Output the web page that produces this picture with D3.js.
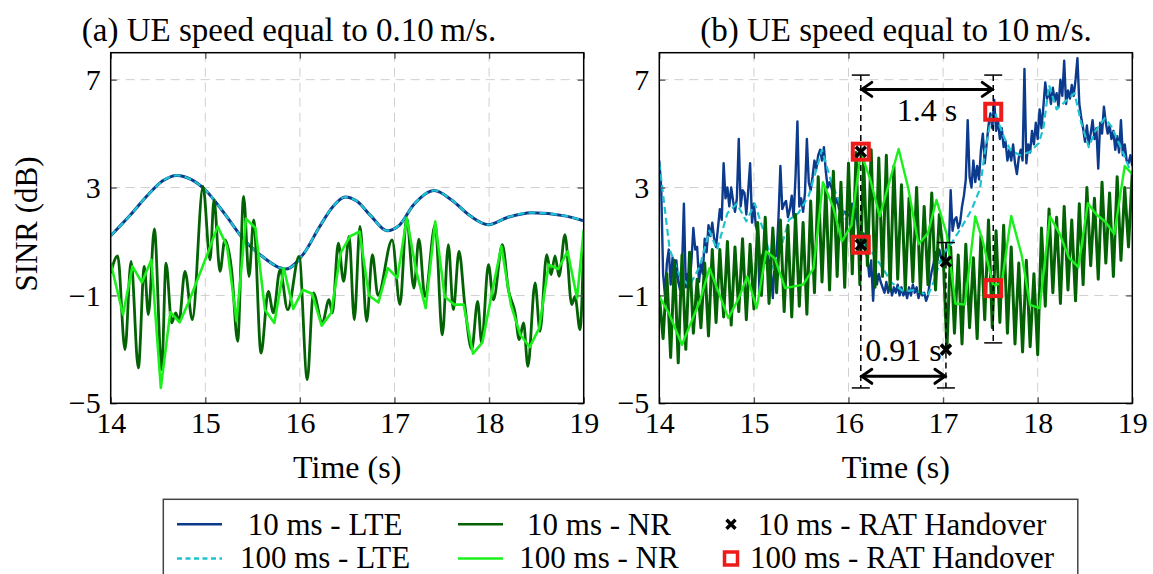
<!DOCTYPE html>
<html><head><meta charset="utf-8">
<script src="https://cdn.jsdelivr.net/npm/d3@7"></script>
<style>
body{margin:0;background:#fff;}
svg{display:block;}
svg text{font-family:"Liberation Serif","DejaVu Serif",serif;}
</style></head><body>
<svg id="chart" width="1153" height="574"></svg>
<script>
// ---------------- data ----------------
const xTicks = [14, 15, 16, 17, 18, 19];
const yTicks = [-5, -1, 3, 7];
const panelTitles = ["(a) UE speed equal to 0.10\u2009m/s.", "(b) UE speed equal to 10\u2009m/s."];
const xLabel = "Time (s)";
const yLabel = "SINR (dB)";
const legendLabels = ["10 ms - LTE", "100 ms - LTE", "10 ms - NR", "100 ms - NR", "10 ms - RAT Handover", "100 ms - RAT Handover"];

// (a) 0.10 m/s
const lteLeftT = [14.0,14.2,14.4,14.55,14.7,14.85,15.0,15.2,15.4,15.6,15.85,16.05,16.2,16.35,16.48,16.6,16.75,16.92,17.05,17.2,17.42,17.6,17.8,17.99,18.2,18.45,18.8,19.0];
const lte10LeftV = [1.21,1.95,2.75,3.25,3.45,3.3,2.91,2.05,1.1,0.45,-0.02,0.6,1.5,2.3,2.65,2.5,1.95,1.4,1.6,2.35,2.89,2.55,1.95,1.62,1.9,2.07,1.95,1.77];
const lte100LeftV = [1.21,1.95,2.75,3.25,3.45,3.3,2.91,2.05,1.1,0.45,-0.02,0.6,1.5,2.3,2.65,2.5,1.95,1.4,1.6,2.35,2.89,2.55,1.95,1.62,1.9,2.07,1.95,1.77];

const nr10LeftT = [14.0,14.074,14.151,14.215,14.292,14.355,14.398,14.461,14.539,14.585,
  14.645,14.687,14.722,14.785,14.863,14.976,15.05,15.092,15.155,15.207,
  15.278,15.342,15.405,15.462,15.511,15.589,15.666,15.719,15.79,15.871,
  15.991,16.078,16.142,16.237,16.308,16.343,16.406,16.462,16.52,16.575,
  16.635,16.706,16.766,16.825,16.975,17.058,17.128,17.205,17.258,17.322,
  17.43,17.506,17.569,17.622,17.682,17.745,17.816,17.879,17.921,17.993,
  18.046,18.14,18.204,18.275,18.318,18.364,18.41,18.486,18.538,18.609,
  18.655,18.697,18.739,18.802,18.873,18.908,18.961,19.0];
const nr10LeftV = [-0.17,0.47,-3.01,0.26,-3.69,0.08,-1.71,1.47,-3.75,0.2,
  -2.02,-1.65,-1.96,-0.11,-1.9,3.04,0.32,2.54,-0.11,1.06,
  -0.05,-2.7,2.67,-0.3,1.8,-3.14,-0.85,-1.65,-0.05,-1.53,
  0.45,-4.12,-0.91,-2.02,-1.16,-1.65,0.94,-0.48,1.19,-1.9,
  1.56,-1.96,0.51,-1.0,1.06,-1.34,1.87,-0.73,1.09,-1.04,
  1.62,-2.46,0.88,-1.53,0.63,-1.4,-3.0,-1.22,-2.76,0.14,
  -1.16,0.88,-0.79,-1.65,-2.64,-2.02,-3.63,-0.54,-2.33,0.51,
  -0.23,0.47,-0.29,1.25,-1.34,-1.04,-2.27,1.0];

const nr100LeftT = [14.0].concat(d3.range(49).map(k => 14.13 + 0.1 * k), [19.0]);
const nr100LeftV = [0.20,-1.71,0.08,-0.52,0.32,-4.43,-1.62,-2.0,-1.2,-0.3,
  0.6,1.56,0.82,-1.95,1.85,1.5,-1.53,-2.02,0.01,-1.5,
  -0.79,-0.94,-2.12,-1.65,0.57,1.19,1.37,-1.0,-1.26,0.01,
  -0.36,1.87,-0.11,-1.47,1.74,-1.04,-1.34,-1.34,-3.16,-2.74,
  -0.9,0.82,-1.34,-2.46,-2.91,-2.21,0.14,-0.02,0.63,-1.10,1.43];

// (b) 10 m/s
const lte10RightT = d3.range(251).map(i => 14 + 0.02 * i);
const lte10RightV = [
  4.0,3.0,-0.2,-1.0,0.2,0.7,-0.6,0.4,-0.8,0.3,
  -0.5,-0.8,0.0,2.4,-0.7,-0.2,-0.6,0.3,1.5,0.7,
  0.8,-0.5,0.2,-0.2,1.1,0.6,1.6,1.2,1.7,1.1,
  0.8,1.5,2.2,1.8,3.9,2.6,3.0,2.3,3.0,2.5,
  2.1,2.6,4.8,2.3,2.9,2.8,2.0,2.9,3.9,1.7,
  2.4,1.6,1.3,-1.0,0.4,0.6,0.2,0.5,0.3,-0.2,
  -1.1,0.4,0.5,1.9,3.8,2.2,2.4,2.5,1.9,2.2,
  2.7,1.9,3.4,5.45,2.3,2.6,2.1,2.8,4.8,3.2,
  2.9,3.4,4.0,3.7,4.2,4.4,4.0,4.5,3.6,3.0,
  3.2,3.0,2.7,2.4,2.6,2.2,2.3,2.0,2.1,2.0,
  2.0,1.9,2.4,1.8,2.2,1.5,1.1,0.9,1.3,0.6,
  0.4,-0.3,0.3,-1.2,0.2,-0.6,-0.2,-0.5,-0.7,-0.9,
  -0.5,-0.9,-0.6,-1.0,-0.7,-0.9,-0.6,-1.0,-0.7,-1.0,
  -0.8,-1.1,-0.7,-1.0,-0.6,-0.9,-0.7,-1.1,-0.8,-1.0,
  -0.9,-1.2,-1.0,-0.5,-0.1,0.2,0.6,0.3,0.7,0.4,
  0.2,0.3,0.9,0.7,2.9,1.4,1.8,1.9,1.5,1.7,
  2.3,2.7,3.3,5.5,3.4,3.0,4.0,3.2,3.8,3.3,
  4.4,5.0,3.9,4.6,5.3,5.75,5.2,6.25,5.1,5.5,
  4.8,5.2,4.5,4.7,4.0,4.4,4.0,4.6,3.9,3.5,
  4.1,4.4,4.0,7.4,3.9,4.6,4.3,5.1,4.6,5.4,
  4.8,5.9,5.2,6.0,6.9,6.3,6.6,6.1,6.7,6.2,
  6.5,6.0,7.0,6.4,7.7,6.1,6.6,6.3,6.8,6.4,
  7.0,7.8,6.1,5.6,5.2,4.7,5.3,4.6,5.0,5.5,
  4.8,5.2,3.7,5.4,5.0,6.0,5.4,5.0,5.3,4.8,
  5.1,4.4,4.9,4.3,5.5,4.2,4.6,4.0,3.9,4.2,
  3.8];

const lte100RightT = [14.00,14.11,14.22,14.32,14.43,14.53,14.61,14.72,14.82,14.92,15.01,15.11,15.21,15.26,15.37,15.47,15.58,15.72,15.81,15.91,16.00,16.12,16.23,16.35,16.46,16.58,16.70,16.84,16.90,16.99,17.09,17.20,17.30,17.39,17.44,17.51,17.55,17.64,17.71,17.81,17.92,18.01,18.06,18.12,18.20,18.31,18.39,18.46,18.54,18.61,18.71,18.78,18.89,18.99,19.00];
const lte100RightV = [3.9,0.7,-0.3,-0.65,0.1,1.4,0.7,2.05,2.4,1.75,2.4,1.3,-0.05,0.45,1.8,2.05,2.7,4.4,3.3,2.4,1.56,1.0,0.69,0.07,-0.54,-0.85,-0.8,-1.0,-0.5,0.5,0.94,1.56,2.17,2.95,4.3,5.6,5.75,4.9,4.4,4.2,4.33,4.64,5.2,6.8,5.9,6.25,6.5,5.4,4.5,5.1,5.57,5.26,4.4,3.53,3.5];

const nr10RightT = d3.range(126).map(i => 14 + 0.04 * i);
const nr10RightV = [
  -1.0,-2.6,-0.2,-3.3,0.3,-3.5,0.5,-3.0,0.6,-2.4,
  -0.4,-2.2,0.2,-2.5,0.7,-2.0,0.7,-1.8,1.0,-2.1,
  0.8,-1.6,1.1,-1.9,0.9,-1.5,1.7,-1.0,1.9,-1.3,
  1.5,-0.9,1.8,-1.6,1.6,-1.8,2.0,-1.4,1.7,-1.7,
  2.5,-0.9,3.4,-0.5,3.0,-0.8,3.6,-0.3,3.2,-0.7,
  3.9,-0.2,4.3,-0.6,4.0,0.1,4.4,-0.7,4.1,-0.3,
  4.2,-0.8,3.8,-0.4,3.1,-0.8,2.6,-0.5,3.0,-0.9,
  2.3,-0.6,2.8,-0.8,2.0,0.6,-3.0,0.8,-2.4,0.5,
  -2.8,0.9,-2.2,0.4,-2.6,1.2,-1.9,1.8,-2.2,1.4,
  -2.0,1.6,-2.4,0.8,-2.8,0.2,-3.1,0.3,-2.9,-0.2,
  -3.2,1.5,-1.4,2.2,-0.9,1.9,-1.3,2.3,-0.8,1.8,
  -1.2,2.4,-0.6,3.0,0.1,2.6,-0.4,3.2,0.2,2.8,
  -0.3,3.4,0.3,3.0,0.8,3.6];

const nr100RightT = [14.0,14.1,14.24,14.43,14.53,14.73,14.84,14.93,15.03,15.13,15.22,15.33,15.52,15.63,15.73,15.84,15.93,16.03,16.13,16.23,16.33,16.53,16.63,16.74,16.84,16.93,17.04,17.13,17.23,17.34,17.42,17.53,17.62,17.72,17.83,17.92,18.02,18.13,18.23,18.33,18.43,18.53,18.62,18.71,18.81,18.92,19.0];
const nr100RightV = [-1.04,-1.65,-2.83,-1.2,0.01,-1.84,-1.1,-0.3,-1.47,0.63,0.38,-0.73,-0.6,0.0,3.2,2.25,1.0,1.6,4.3,3.3,1.93,4.43,3.0,0.9,1.31,2.54,1.25,-1.3,-1.34,1.93,1.0,-0.63,-0.55,1.95,0.5,-1.35,-1.47,1.93,1.3,0.4,0.05,2.42,2.0,1.75,1.28,3.8,3.5];

// RAT handover events (time, SINR)
const ho10T = [16.13, 16.13, 17.03, 17.03];
const ho10V = [4.33, 0.88, 0.26, -3.01];
const ho100T = [16.13, 16.13, 17.53, 17.53];
const ho100V = [4.33, 0.88, 5.81, -0.73];

// annotation (dimension lines) in data units
const dimLineT = [16.13, 17.53, 17.03];
const dimLineTop = [7.17, 7.17, 0.96];
const dimLineBot = [-4.43, -2.76, -4.43];
const arrowFrom = [16.13, 16.13];
const arrowTo = [17.53, 17.03];
const arrowV = [6.64, -4.0];
const arrowLabels = ["1.4 s", "0.91 s"];
const arrowLabelV = [5.45, -3.45];

// ---------------- drawing ----------------
const C = {lte10: '#0c3a8c', lte100: '#1fc3cf', nr10: '#036203', nr100: '#1cf01c', red: '#ee1b1b'};
const svg = d3.select('#chart');
svg.append('rect').attr('width', 1153).attr('height', 574).attr('fill', '#fff');

const yTop = 52.7, yBot = 403.3;
const panels = [
  {x0: 110.7, x1: 583.7, titleX: 289},
  {x0: 659.3, x1: 1132.3, titleX: 896}
];

const y = d3.scaleLinear().domain([-5, 8]).range([yBot, yTop]);

function drawPanel(pi, series, extra) {
  const p = panels[pi];
  const x = d3.scaleLinear().domain([14, 19]).range([p.x0, p.x1]);
  const g = svg.append('g');

  g.selectAll('.gx').data(xTicks).join('line')
    .attr('x1', d => x(d)).attr('x2', d => x(d)).attr('y1', yTop).attr('y2', yBot)
    .attr('stroke', '#cfcfcf').attr('stroke-width', 1).attr('stroke-dasharray', '9,6');
  g.selectAll('.gy').data(yTicks).join('line')
    .attr('x1', p.x0).attr('x2', p.x1).attr('y1', d => y(d)).attr('y2', d => y(d))
    .attr('stroke', '#cfcfcf').attr('stroke-width', 1).attr('stroke-dasharray', '9,6');

  const cid = 'clip' + pi;
  svg.append('clipPath').attr('id', cid).append('rect')
    .attr('x', p.x0).attr('y', yTop).attr('width', p.x1 - p.x0).attr('height', yBot - yTop);
  const lg = g.append('g').attr('clip-path', `url(#${cid})`);

  series.forEach(s => {
    const line = d3.line().x(d => x(d[0])).y(d => y(d[1])).curve(s.curve || d3.curveLinear);
    lg.append('path').datum(d3.zip(s.t, s.v))
      .attr('d', line).attr('fill', 'none')
      .attr('stroke', s.color).attr('stroke-width', s.width)
      .attr('stroke-dasharray', s.dash || null)
      .attr('stroke-linejoin', 'round');
  });

  if (extra) extra(g, x);

  const styleAxis = sel => {
    sel.select('.domain').remove();
    sel.selectAll('line').attr('stroke', '#555').attr('stroke-width', 1.3);
    sel.attr('font-size', null).attr('font-family', null);
    sel.selectAll('text').attr('fill', '#000').style('font-size', '30px');
  };
  g.append('g').attr('transform', `translate(0,${yBot})`)
    .call(d3.axisBottom(x).tickValues(xTicks).tickSize(-6).tickPadding(8).tickFormat(d3.format('d')))
    .call(styleAxis);
  g.append('g').attr('transform', `translate(0,${yTop})`)
    .call(d3.axisTop(x).tickValues(xTicks).tickSize(-6).tickFormat(''))
    .call(styleAxis);
  g.append('g').attr('transform', `translate(${p.x0},0)`)
    .call(d3.axisLeft(y).tickValues(yTicks).tickSize(-6).tickPadding(10).tickFormat(d3.format('d')))
    .call(styleAxis);
  g.append('g').attr('transform', `translate(${p.x1},0)`)
    .call(d3.axisRight(y).tickValues(yTicks).tickSize(-6).tickFormat(''))
    .call(styleAxis);

  g.append('rect').attr('x', p.x0).attr('y', yTop).attr('width', p.x1 - p.x0).attr('height', yBot - yTop)
    .attr('fill', 'none').attr('stroke', '#000').attr('stroke-width', 1.5);

  g.append('text').attr('x', (p.x0 + p.x1) / 2).attr('y', 478).attr('text-anchor', 'middle')
    .style('font-size', '32px').text(xLabel);
  g.append('text').attr('x', p.titleX).attr('y', 41).attr('text-anchor', 'middle')
    .style('font-size', '33px').text(panelTitles[pi]);
  return x;
}

drawPanel(0, [
  {t: lteLeftT, v: lte10LeftV, color: C.lte10, width: 3, curve: d3.curveMonotoneX},
  {t: lteLeftT, v: lte100LeftV, color: C.lte100, width: 2.2, dash: '7,4', curve: d3.curveMonotoneX},
  {t: nr10LeftT, v: nr10LeftV, color: C.nr10, width: 2.8, curve: d3.curveMonotoneX},
  {t: nr100LeftT, v: nr100LeftV, color: C.nr100, width: 2.6}
]);

function xMark(sel, cx, cy, r, w) {
  sel.append('path').attr('d', `M${cx - r},${cy - r}L${cx + r},${cy + r}M${cx - r},${cy + r}L${cx + r},${cy - r}`)
    .attr('stroke', '#000').attr('stroke-width', w).attr('fill', 'none');
}
function sqMark(sel, cx, cy, s, w) {
  sel.append('rect').attr('x', cx - s / 2).attr('y', cy - s / 2).attr('width', s).attr('height', s)
    .attr('fill', 'none').attr('stroke', C.red).attr('stroke-width', w);
}

drawPanel(1, [
  {t: lte10RightT, v: lte10RightV, color: C.lte10, width: 2.4},
  {t: lte100RightT, v: lte100RightV, color: C.lte100, width: 2.2, dash: '7,4'},
  {t: nr10RightT, v: nr10RightV, color: C.nr10, width: 3},
  {t: nr100RightT, v: nr100RightV, color: C.nr100, width: 2.4}
], (g, x) => {
  const ag = g.append('g');
  dimLineT.forEach((t, i) => {
    ag.append('line').attr('x1', x(t)).attr('x2', x(t)).attr('y1', y(dimLineTop[i])).attr('y2', y(dimLineBot[i]))
      .attr('stroke', '#000').attr('stroke-width', 1.5).attr('stroke-dasharray', '6,4');
    [dimLineTop[i], dimLineBot[i]].forEach(v => {
      ag.append('line').attr('x1', x(t) - 9).attr('x2', x(t) + 9).attr('y1', y(v)).attr('y2', y(v))
        .attr('stroke', '#000').attr('stroke-width', 1.5);
    });
  });
  ho100T.forEach((t, i) => sqMark(ag, x(t), y(ho100V[i]), 16, 4));
  ho10T.forEach((t, i) => xMark(ag, x(t), y(ho10V[i]), 5, 3.6));
  arrowFrom.forEach((t0, i) => {
    const xa = x(t0), xb = x(arrowTo[i]), ya = y(arrowV[i]);
    ag.append('line').attr('x1', xa + 1).attr('x2', xb - 1).attr('y1', ya).attr('y2', ya)
      .attr('stroke', '#000').attr('stroke-width', 3);
    ag.append('path').attr('d', `M${xa + 11},${ya - 7}L${xa + 1},${ya}L${xa + 11},${ya + 7}`)
      .attr('fill', 'none').attr('stroke', '#000').attr('stroke-width', 3).attr('stroke-linecap', 'round');
    ag.append('path').attr('d', `M${xb - 11},${ya - 7}L${xb - 1},${ya}L${xb - 11},${ya + 7}`)
      .attr('fill', 'none').attr('stroke', '#000').attr('stroke-width', 3).attr('stroke-linecap', 'round');
    ag.append('text').attr('x', (xa + xb) / 2).attr('y', y(arrowLabelV[i])).attr('text-anchor', 'middle')
      .style('font-size', '32px').text(arrowLabels[i]);
  });
});

svg.append('text').attr('transform', 'translate(37,224) rotate(-90)').attr('text-anchor', 'middle')
  .style('font-size', '31px').text(yLabel);

const lgd = svg.append('g');
lgd.append('rect').attr('x', 163.3).attr('y', 499.3).attr('width', 914.5).attr('height', 90)
  .attr('fill', '#fff').attr('stroke', '#444').attr('stroke-width', 1.5);
const rowY = [524.3, 558.5];
const rowBase = [535, 568];
const legendItems = [
  {col: 0, row: 0, kind: 'line', color: C.lte10, dash: null},
  {col: 0, row: 1, kind: 'line', color: C.lte100, dash: '5,3.5'},
  {col: 1, row: 0, kind: 'line', color: C.nr10, dash: null},
  {col: 1, row: 1, kind: 'line', color: C.nr100, dash: null},
  {col: 2, row: 0, kind: 'x'},
  {col: 2, row: 1, kind: 'sq'}
];
const colSample = [[177, 222], [458, 503], [731, 731]];
const colTextX = [325, 599, 902];
legendItems.forEach((it, i) => {
  const yy = rowY[it.row];
  if (it.kind === 'line') {
    lgd.append('line').attr('x1', colSample[it.col][0]).attr('x2', colSample[it.col][1]).attr('y1', yy).attr('y2', yy)
      .attr('stroke', it.color).attr('stroke-width', 2.6).attr('stroke-dasharray', it.dash);
  } else if (it.kind === 'x') {
    xMark(lgd, colSample[it.col][0], yy, 4.5, 3.4);
  } else {
    sqMark(lgd, colSample[it.col][0], yy, 13, 3.5);
  }
  lgd.append('text').attr('x', colTextX[it.col]).attr('y', rowBase[it.row]).attr('text-anchor', 'middle')
    .style('font-size', '31px').text(legendLabels[i]);
});
</script>
</body></html>
